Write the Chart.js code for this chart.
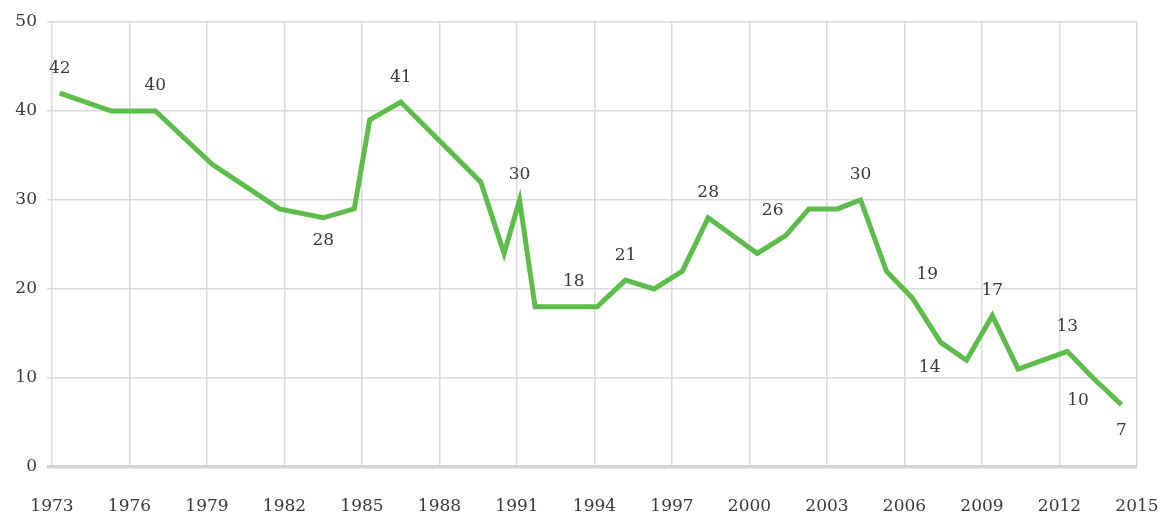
<!DOCTYPE html>
<html>
<head>
<meta charset="utf-8">
<script src="https://cdn.jsdelivr.net/npm/chart.js@4"></script>
<style>
  html, body { margin: 0; padding: 0; background: #fff; }
  #wrap { width: 1166px; height: 521px; position: relative; }
</style>
</head>
<body>
<div id="wrap"><canvas id="myChart"></canvas></div>
<script>
// データ（年・値）
const years  = [1973.3, 1975.3, 1977.0, 1979.2, 1981.8, 1983.5, 1984.7, 1985.3, 1986.5,
                1989.6, 1990.5, 1991.1, 1991.7, 1993.2, 1994.1, 1995.2, 1996.3, 1997.4,
                1998.4, 2000.3, 2001.4, 2002.3, 2003.4, 2004.3, 2005.3, 2006.3, 2007.4,
                2008.4, 2009.4, 2010.4, 2012.3, 2013.3, 2014.4];
const values = [42, 40, 40, 34, 29, 28, 29, 39, 41,
                32, 24, 30, 18, 18, 18, 21, 20, 22,
                28, 24, 26, 29, 29, 30, 22, 19, 14,
                12, 17, 11, 13, 10, 7];

// 目盛り
const xTicks = [1973, 1976, 1979, 1982, 1985, 1988, 1991, 1994, 1997, 2000, 2003, 2006, 2009, 2012, 2015];
const yTicks = [0, 10, 20, 30, 40, 50];

// 値ラベルを付ける点
const labelled = [0, 2, 5, 8, 11, 13, 15, 18, 20, 23, 25, 26, 28, 30, 31, 32];

const font = { family: "'DejaVu Serif', serif", size: 17 };
const textColor = "#3a3a3a";
const gridColor = "#dadada";

// 値ラベルを描くプラグイン
const pointLabels = {
  id: "pointLabels",
  afterDatasetsDraw(chart, args, opts) {
    const ctx = chart.ctx;
    const meta = chart.getDatasetMeta(0);
    ctx.save();
    ctx.font = font.size + "px " + font.family;
    ctx.fillStyle = textColor;
    ctx.textAlign = "center";
    ctx.textBaseline = "middle";
    labelled.forEach(i => {
      const p = meta.data[i];
      const off = opts.offsets[i] || [0, -25];
      ctx.fillText(String(values[i]), p.x + off[0], p.y + off[1]);
    });
    ctx.restore();
  }
};

const data = {
  datasets: [{
    data: years.map((y, i) => ({ x: y, y: values[i] })),
    borderColor: "#5dbd4a",
    borderWidth: 5,
    pointRadius: 0,
    fill: false,
    tension: 0,
  }]
};

const config = {
  type: "line",
  data: data,
  plugins: [pointLabels],
  options: {
    responsive: true,
    maintainAspectRatio: false,
    animation: false,
    layout: { padding: { left: 0, right: 29, top: 22, bottom: 0 } },
    plugins: {
      legend: { display: false },
      tooltip: { enabled: false },
      pointLabels: {
        offsets: {
          5:  [0, 23],
          20: [-13, -25],
          25: [15, -23],
          26: [-11, 25],
          31: [-15, 23],
          32: [0, 26],
        }
      }
    },
    scales: {
      x: {
        type: "linear",
        min: xTicks[0],
        max: xTicks[xTicks.length - 1],
        afterBuildTicks: axis => { axis.ticks = xTicks.map(v => ({ value: v })); },
        afterFit: axis => {
          axis.height = 54;
          axis.paddingLeft = 0;
          axis.paddingRight = 0;
        },
        border: { display: false },
        grid: { color: gridColor, lineWidth: 1.5, drawTicks: false },
        ticks: {
          font: font,
          color: textColor,
          padding: 29,
          maxRotation: 0,
          callback: v => String(v),
        }
      },
      y: {
        min: yTicks[0],
        max: yTicks[yTicks.length - 1],
        afterBuildTicks: axis => { axis.ticks = yTicks.map(v => ({ value: v })); },
        afterFit: axis => { axis.width = 52; },
        border: { display: false },
        grid: {
          color: ctx => ctx.tick && ctx.tick.value === 0 ? "#d4d4d4" : gridColor,
          lineWidth: ctx => ctx.tick && ctx.tick.value === 0 ? 3.5 : 1.5,
          tickLength: 5,
        },
        ticks: {
          font: font,
          color: textColor,
          padding: 10,
        }
      }
    }
  }
};

const ctx = document.getElementById("myChart");
const myChart = new Chart(ctx, config);
</script>
</body>
</html>
